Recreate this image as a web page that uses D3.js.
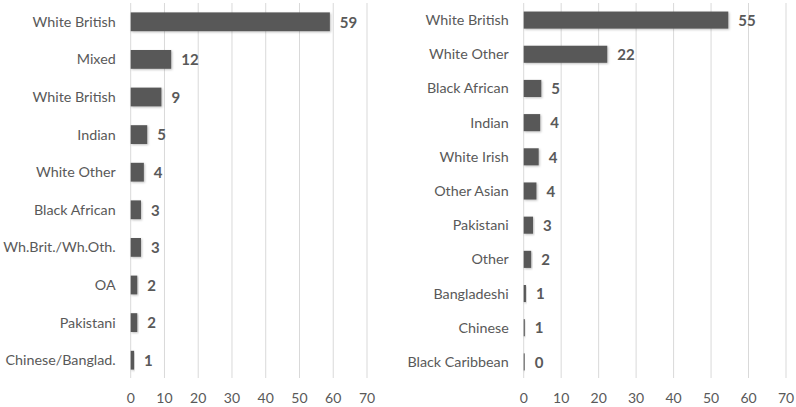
<!DOCTYPE html>
<html>
<head>
<meta charset="utf-8">
<script src="https://cdn.jsdelivr.net/npm/d3@7"></script>
<style>
  body { margin: 0; background: #fff; }
  text { font-family: Lato, "Open Sans", sans-serif; }
</style>
</head>
<body>
<svg width="796" height="407"></svg>
<script>
// left chart
var leftCats = ["White British", "Mixed", "White British", "Indian", "White Other",
  "Black African", "Wh.Brit./Wh.Oth.", "OA", "Pakistani", "Chinese/Banglad."];
var leftVals = [59, 12, 9.1, 4.9, 3.9, 3.05, 3.05, 1.95, 1.95, 1.0];
var leftShown = ["59", "12", "9", "5", "4", "3", "3", "2", "2", "1"];

// right chart
var rightCats = ["White British", "White Other", "Black African", "Indian", "White Irish",
  "Other Asian", "Pakistani", "Other", "Bangladeshi", "Chinese", "Black Caribbean"];
var rightVals = [54.6, 22.3, 4.7, 4.4, 4.0, 3.4, 2.5, 2.0, 0.6, 0.3, 0.1];
var rightShown = ["55", "22", "5", "4", "4", "4", "3", "2", "1", "1", "0"];

var ticks = [0, 10, 20, 30, 40, 50, 60, 70];

var svg = d3.select("svg");

var defs = svg.append("defs");
defs.append("filter").attr("id", "shadow")
  .attr("x", "-10%").attr("y", "-30%").attr("width", "130%").attr("height", "170%")
  .append("feDropShadow")
    .attr("dx", 1).attr("dy", 1).attr("stdDeviation", 1.2)
    .attr("flood-color", "#000").attr("flood-opacity", 0.25);

function drawChart(cats, vals, shown, x0, x1) {
  var g = svg.append("g");

  var x = d3.scaleLinear().domain([0, 70]).range([x0, x1]);
  var y = d3.scaleBand().domain(d3.range(cats.length)).range([3, 379]).paddingInner(0.5).paddingOuter(0.25);

  // gridlines
  g.selectAll("line.grid")
    .data(ticks)
    .enter().append("line")
      .attr("x1", function(d) { return x(d); })
      .attr("x2", function(d) { return x(d); })
      .attr("y1", 3)
      .attr("y2", 378)
      .attr("stroke", "#d9d9d9")
      .attr("stroke-width", 1);

  // tick labels
  g.selectAll("text.tick")
    .data(ticks)
    .enter().append("text")
      .attr("x", function(d) { return x(d); })
      .attr("y", 403)
      .attr("text-anchor", "middle")
      .attr("font-size", 14)
      .attr("fill", "#595959")
      .text(function(d) { return d; });

  // bars
  g.selectAll("rect.bar")
    .data(vals)
    .enter().append("rect")
      .attr("x", x(0))
      .attr("y", function(d, i) { return y(i); })
      .attr("width", function(d) { return Math.max(1, x(d) - x(0)); })
      .attr("height", y.bandwidth())
      .attr("fill", "#595959")
      .attr("filter", "url(#shadow)");

  // category labels
  g.selectAll("text.cat")
    .data(cats)
    .enter().append("text")
      .attr("x", x(0) - 15)
      .attr("y", function(d, i) { return y(i) + y.bandwidth() / 2; })
      .attr("dy", "0.35em")
      .attr("text-anchor", "end")
      .attr("font-size", 14.3)
      .attr("fill", "#595959")
      .text(function(d) { return d; });

  // value labels
  g.selectAll("text.val")
    .data(vals)
    .enter().append("text")
      .attr("x", function(d) { return Math.max(x(0) + 1, x(d)) + 10; })
      .attr("y", function(d, i) { return y(i) + y.bandwidth() / 2; })
      .attr("dy", "0.38em")
      .attr("font-size", 15)
      .attr("font-weight", "bold")
      .attr("fill", "#595959")
      .text(function(d, i) { return shown[i]; });
}

drawChart(leftCats, leftVals, leftShown, 130.7, 367);
drawChart(rightCats, rightVals, rightShown, 523.7, 786);
</script>
</body>
</html>
